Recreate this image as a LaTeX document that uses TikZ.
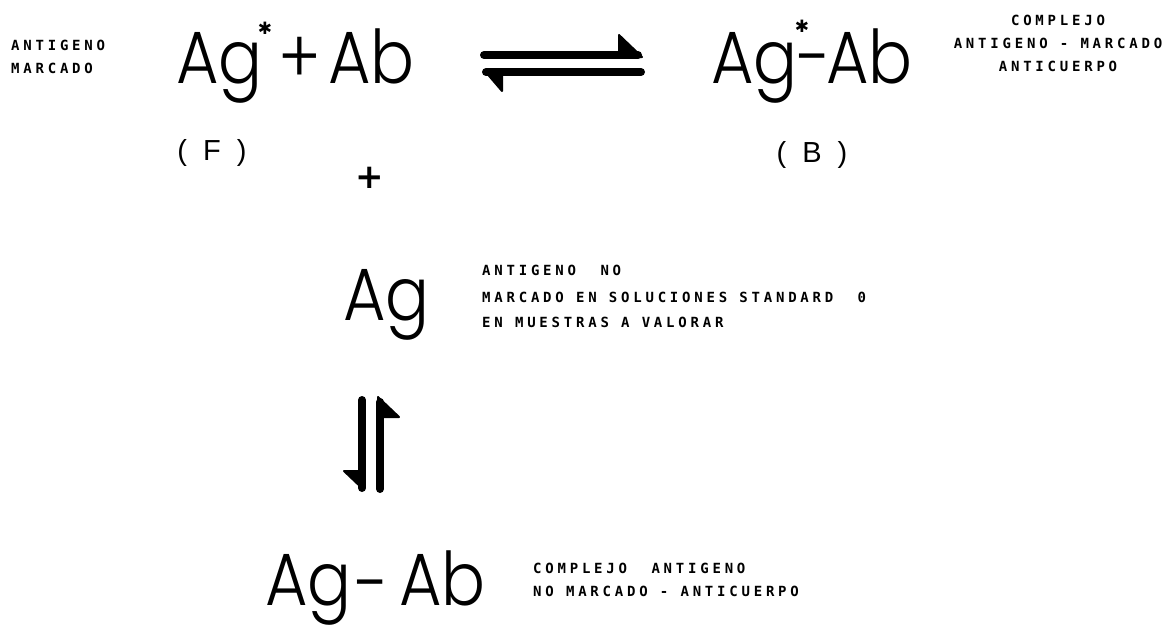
\documentclass[tikz,border=0pt]{standalone}
\usepackage{fontspec}
\newfontfamily\bigf{Poppins Light}
\newfontfamily\labf{DejaVu Sans Mono}[LetterSpace=27]
\newfontfamily\parf{Liberation Sans}
\newfontfamily\symf{DejaVu Sans}
\newcommand{\bigtxt}[1]{{\bigf\fontsize{74}{74}\selectfont\scalebox{0.88}[1]{#1}}}
\tikzset{
  bigtext/.style={inner sep=0pt, anchor=base west},
  bigsym/.style={inner sep=0pt, anchor=base},
  symtext/.style={inner sep=0pt, anchor=center},
  lab/.style={inner sep=0pt, anchor=base west, font=\labf\bfseries\fontsize{14}{16}\selectfont},
  labc/.style={lab, anchor=base},
  bar/.style={line width=8pt, line cap=round},
  barb/.style={fill=black, draw=black, line width=2pt, line join=round},
}
\begin{document}
\begin{tikzpicture}[x=1pt,y=-1pt]
\useasboundingbox (0,0) rectangle (1173,630);
% left label
\node[lab] (l1) at (11,50) {ANTIGENO};
\node[lab] (l2) at (11,73) {MARCADO};
% top-left formula
\node[bigtext] (ag1) at (176,83) {\bigtxt{Ag}};
\node[symtext] (st1) at (265,28) {\symf\fontsize{17}{17}\selectfont ✱};
\node[bigsym] (pl1) at (300,83) {\bigtxt{+}};
\node[bigtext] (ab1) at (328,83) {\bigtxt{Ab}};
% top-right formula
\node[bigtext] (ag2) at (711,83) {\bigtxt{Ag}};
\node[symtext] (st2) at (802,26) {\symf\fontsize{17}{17}\selectfont ✱};
\node[bigsym] (mi2) at (814,83) {\bigtxt{-}};
\node[bigtext] (ab2) at (826,83) {\bigtxt{Ab}};
% top-right label
\node[labc] (r1) at (1058,25) {COMPLEJO};
\node[labc] (r2) at (1058,48) {ANTIGENO - MARCADO};
\node[labc] (r3) at (1058,71) {ANTICUERPO};
% (F) (B) +
\node[symtext] (F) at (212,153) {\parf\fontsize{29}{29}\selectfont (\hspace{16pt}F\hspace{16pt})};
\node[symtext] (B) at (812,155) {\parf\fontsize{29}{29}\selectfont (\hspace{16pt}B\hspace{16pt})};
\node[symtext] (pl2) at (370,178) {\symf\bfseries\fontsize{34}{34}\selectfont +};
% middle
\node[bigtext] (ag3) at (343,320) {\bigtxt{Ag}};
\node[lab] (m1) at (482,275) {ANTIGENO\ \ NO};
\node[lab] (m2) at (482,302) {MARCADO EN SOLUCIONES STANDARD\ \ 0};
\node[lab] (m3) at (482,327) {EN MUESTRAS A VALORAR};
% bottom
\node[bigtext] (ag4) at (265,605) {\bigtxt{Ag}};
\node[bigsym] (mi4) at (372,609) {\bigtxt{-}};
\node[bigtext] (ab4) at (399,605) {\bigtxt{Ab}};
\node[lab] (b1) at (533,573) {COMPLEJO\ \ ANTIGENO};
\node[lab] (b2) at (533,596) {NO MARCADO - ANTICUERPO};
% horizontal equilibrium arrow
\coordinate (h1a) at (484,55);
\coordinate (h1b) at (638,55);
\coordinate (h2a) at (486,72);
\coordinate (h2b) at (641,72);
\draw[bar] (h1a) -- (h1b);
\draw[barb] (619,35) -- (642,57) -- (619,57) -- cycle;
\draw[bar] (h2a) -- (h2b);
\draw[barb] (484,70) -- (502,70) -- (502,91) -- cycle;
% vertical equilibrium arrow
\coordinate (v1a) at (362,400);
\coordinate (v1b) at (362,488);
\coordinate (v2a) at (380,402);
\coordinate (v2b) at (380,489);
\draw[bar] (v1a) -- (v1b);
\draw[barb] (344,471) -- (364,471) -- (364,490) -- cycle;
\draw[bar] (v2a) -- (v2b);
\draw[barb] (378,397) -- (399,417) -- (378,417) -- cycle;
\end{tikzpicture}
\end{document}
